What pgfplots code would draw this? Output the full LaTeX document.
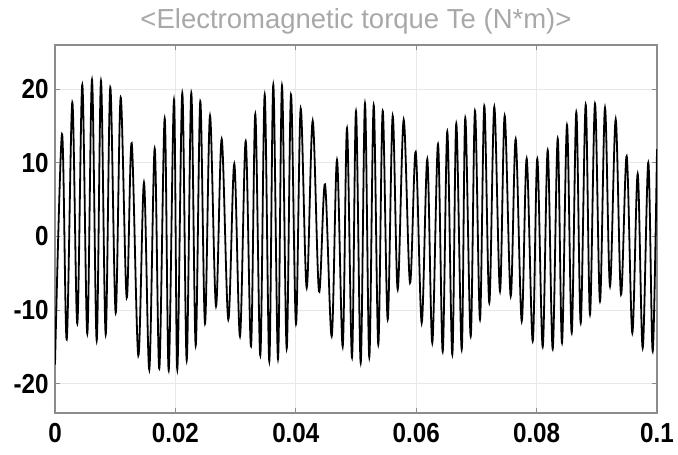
\documentclass[border=0pt]{standalone}
\usepackage{fontspec}
\setmainfont{Liberation Sans}
\newfontfamily\tickfont[FakeStretch=0.88]{Liberation Sans}
\usepackage{pgfplots}
\usepackage{pgfplotstable}
\pgfplotsset{compat=1.18}

% Electromagnetic torque, extrema of the oscillation (time in s, torque in N*m)
\pgfplotstableread{
t Te
0.000000 -17.41
0.001163 13.88
0.001944 -14.01
0.002874 18.19
0.003704 -11.84
0.004535 20.59
0.005365 -13.20
0.006146 21.27
0.006927 -14.15
0.007641 21.13
0.008422 -13.33
0.009186 20.23
0.010083 -10.38
0.010914 18.87
0.011910 -8.34
0.012741 12.65
0.013837 -16.19
0.014784 7.31
0.015664 -18.10
0.016561 11.93
0.017326 -17.96
0.018223 16.01
0.018887 -18.19
0.019767 18.54
0.020316 -18.10
0.021146 19.46
0.021877 -16.83
0.022641 19.46
0.023372 -14.83
0.024136 18.33
0.024917 -11.84
0.025748 16.39
0.026744 -9.48
0.027691 13.20
0.028787 -11.29
0.029784 9.86
0.030731 -13.56
0.031678 12.93
0.032558 -14.93
0.033272 16.60
0.034103 -16.19
0.034834 19.25
0.035598 -16.97
0.036262 20.57
0.037043 -16.64
0.037708 20.48
0.038488 -15.24
0.039203 19.25
0.040033 -11.90
0.040814 17.37
0.041811 -6.98
0.042807 15.69
0.043854 -7.48
0.044851 7.07
0.045963 -13.56
0.046844 10.38
0.047791 -14.97
0.048505 14.69
0.049336 -16.46
0.050000 16.97
0.050781 -17.18
0.051495 18.05
0.052209 -16.42
0.052940 17.82
0.053704 -14.69
0.054435 17.05
0.055266 -11.29
0.056096 16.37
0.056927 -7.21
0.057924 15.82
0.058970 -6.30
0.059917 11.47
0.060914 -11.74
0.061844 10.48
0.062674 -14.46
0.063621 12.52
0.064402 -15.65
0.065166 14.22
0.065997 -16.05
0.066661 15.31
0.067558 -15.37
0.068156 16.10
0.069053 -13.56
0.069767 17.05
0.070598 -11.29
0.071312 17.73
0.072143 -9.02
0.072973 17.58
0.073920 -7.44
0.074701 16.37
0.075698 -8.12
0.076528 13.20
0.077525 -11.52
0.078355 10.54
0.079352 -14.24
0.080116 10.54
0.081013 -15.01
0.081844 11.70
0.082674 -15.28
0.083505 13.27
0.084219 -14.46
0.085050 15.13
0.085831 -13.10
0.086595 16.87
0.087326 -11.74
0.088156 17.89
0.088870 -10.61
0.089701 18.03
0.090532 -8.80
0.091362 17.48
0.092193 -6.76
0.093140 15.88
0.094020 -7.89
0.094967 10.88
0.095897 -13.10
0.096794 8.48
0.097625 -15.14
0.098555 10.03
0.099286 -15.61
0.100000 11.84
}\torque

\definecolor{frame}{HTML}{8C8C8C}
\definecolor{gridc}{HTML}{E8E8E8}
\definecolor{titlec}{HTML}{A8A8A8}

\begin{document}
\begin{tikzpicture}
\begin{axis}[
  name=ax,
  scale only axis,
  width=602bp, height=368bp,
  xmin=0, xmax=0.1, ymin=-24, ymax=26,
  xtick={0,0.02,0.04,0.06,0.08,0.1},
  xticklabels={0,0.02,0.04,0.06,0.08,0.1},
  ytick={-20,-10,0,10,20},
  yticklabels={-20,-10,0,10,20},
  grid=major,
  major grid style={gridc, line width=0.7bp},
  axis line style={frame, line width=1.3bp},
  tick style={frame, line width=0.8bp},
  tick align=inside,
  major tick length=5bp,
  ticklabel style={font=\tickfont\bfseries\fontsize{27.5bp}{27.5bp}\selectfont, text=black},
  xticklabel style={yshift=-7bp},
  yticklabel style={xshift=-3bp},
  title={<Electromagnetic torque Te (N*m)>},
  title style={font=\fontsize{27.5bp}{27.5bp}\selectfont, text=titlec, yshift=1bp},
]
\addplot[black, line width=1.8bp, smooth, tension=0.55] table[x=t, y=Te] {\torque};
\end{axis}
\pgfresetboundingbox
\path[use as bounding box] ([xshift=-55bp,yshift=-42bp]ax.south west) rectangle ([xshift=21bp,yshift=45bp]ax.north east);
\end{tikzpicture}
\end{document}
